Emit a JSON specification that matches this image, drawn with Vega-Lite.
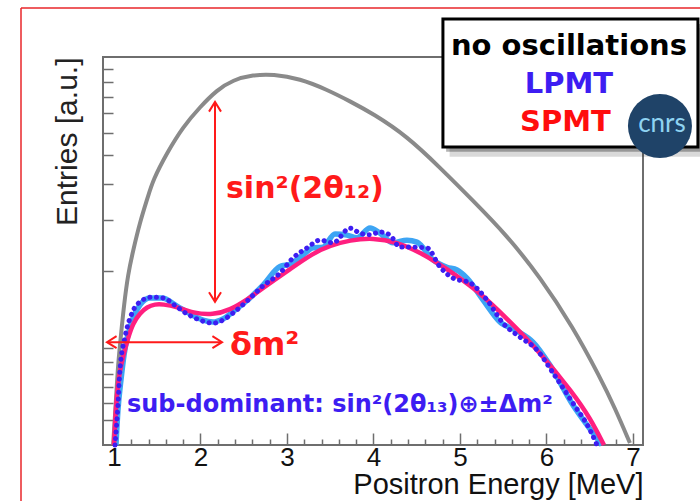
{
  "$schema": "https://vega.github.io/schema/vega-lite/v6.json",
  "width": 540,
  "height": 388,
  "autosize": "none",
  "padding": {"left": 103, "top": 57, "right": 57, "bottom": 56},
  "background": "white",
  "config": {"view": {"stroke": "#6e6e6e", "strokeWidth": 2}},
  "datasets": {
    "frame": [
      {"x": -0.075, "y": 112.6, "x2": 7.8, "y2": 112.6},
      {"x": -0.075, "y": 112.6, "x2": -0.075, "y2": -15}
    ],
    "curves": [
      {"s": "gray", "x": 0.99, "y": 0},
      {"s": "gray", "x": 1.023, "y": 11.6},
      {"s": "gray", "x": 1.046, "y": 20.6},
      {"s": "gray", "x": 1.081, "y": 28.4},
      {"s": "gray", "x": 1.116, "y": 36.1},
      {"s": "gray", "x": 1.162, "y": 44.0},
      {"s": "gray", "x": 1.22, "y": 50.0},
      {"s": "gray", "x": 1.301, "y": 57.5},
      {"s": "gray", "x": 1.393, "y": 64.0},
      {"s": "gray", "x": 1.451, "y": 68.3},
      {"s": "gray", "x": 1.613, "y": 75.3},
      {"s": "gray", "x": 1.798, "y": 82.0},
      {"s": "gray", "x": 1.994, "y": 87.1},
      {"s": "gray", "x": 2.191, "y": 91.5},
      {"s": "gray", "x": 2.376, "y": 94.1},
      {"s": "gray", "x": 2.607, "y": 95.4},
      {"s": "gray", "x": 2.838, "y": 95.6},
      {"s": "gray", "x": 3.15, "y": 94.4},
      {"s": "gray", "x": 3.462, "y": 91.6},
      {"s": "gray", "x": 3.728, "y": 88.6},
      {"s": "gray", "x": 3.994, "y": 85.4},
      {"s": "gray", "x": 4.387, "y": 79.6},
      {"s": "gray", "x": 4.769, "y": 71.5},
      {"s": "gray", "x": 5.15, "y": 63.0},
      {"s": "gray", "x": 5.543, "y": 54.0},
      {"s": "gray", "x": 5.925, "y": 43.3},
      {"s": "gray", "x": 6.306, "y": 30.4},
      {"s": "gray", "x": 6.618, "y": 17.5},
      {"s": "gray", "x": 6.792, "y": 9.5},
      {"s": "gray", "x": 6.965, "y": 0.5},

      {"s": "pink", "x": 1.0, "y": 0},
      {"s": "pink", "x": 1.023, "y": 10.3},
      {"s": "pink", "x": 1.046, "y": 15.5},
      {"s": "pink", "x": 1.069, "y": 19.3},
      {"s": "pink", "x": 1.104, "y": 22.7},
      {"s": "pink", "x": 1.162, "y": 27.6},
      {"s": "pink", "x": 1.22, "y": 31.4},
      {"s": "pink", "x": 1.301, "y": 34.0},
      {"s": "pink", "x": 1.382, "y": 35.6},
      {"s": "pink", "x": 1.474, "y": 36.3},
      {"s": "pink", "x": 1.566, "y": 36.3},
      {"s": "pink", "x": 1.728, "y": 35.6},
      {"s": "pink", "x": 1.913, "y": 34.0},
      {"s": "pink", "x": 2.145, "y": 33.5},
      {"s": "pink", "x": 2.341, "y": 34.8},
      {"s": "pink", "x": 2.538, "y": 37.4},
      {"s": "pink", "x": 2.769, "y": 41.2},
      {"s": "pink", "x": 3.035, "y": 45.3},
      {"s": "pink", "x": 3.301, "y": 49.4},
      {"s": "pink", "x": 3.497, "y": 51.4},
      {"s": "pink", "x": 3.728, "y": 52.8},
      {"s": "pink", "x": 3.994, "y": 53.4},
      {"s": "pink", "x": 4.272, "y": 52.3},
      {"s": "pink", "x": 4.538, "y": 49.7},
      {"s": "pink", "x": 4.85, "y": 45.4},
      {"s": "pink", "x": 5.197, "y": 39.9},
      {"s": "pink", "x": 5.543, "y": 32.6},
      {"s": "pink", "x": 5.925, "y": 23.9},
      {"s": "pink", "x": 6.306, "y": 13.4},
      {"s": "pink", "x": 6.503, "y": 7.0},
      {"s": "pink", "x": 6.665, "y": 0},

      {"s": "lb", "x": 1.023, "y": 0},
      {"s": "lb", "x": 1.046, "y": 9.0},
      {"s": "lb", "x": 1.081, "y": 16.8},
      {"s": "lb", "x": 1.116, "y": 23.2},
      {"s": "lb", "x": 1.162, "y": 28.4},
      {"s": "lb", "x": 1.22, "y": 32.7},
      {"s": "lb", "x": 1.301, "y": 36.1},
      {"s": "lb", "x": 1.416, "y": 37.9},
      {"s": "lb", "x": 1.555, "y": 37.9},
      {"s": "lb", "x": 1.728, "y": 35.8},
      {"s": "lb", "x": 1.879, "y": 33.8},
      {"s": "lb", "x": 2.029, "y": 32.2},
      {"s": "lb", "x": 2.145, "y": 31.7},
      {"s": "lb", "x": 2.26, "y": 32.5},
      {"s": "lb", "x": 2.399, "y": 34.8},
      {"s": "lb", "x": 2.572, "y": 37.9},
      {"s": "lb", "x": 2.723, "y": 41.2},
      {"s": "lb", "x": 2.919, "y": 46.0},
      {"s": "lb", "x": 3.035, "y": 46.6},
      {"s": "lb", "x": 3.185, "y": 49.0},
      {"s": "lb", "x": 3.301, "y": 50.8},
      {"s": "lb", "x": 3.416, "y": 51.0},
      {"s": "lb", "x": 3.555, "y": 54.4},
      {"s": "lb", "x": 3.694, "y": 54.1},
      {"s": "lb", "x": 3.809, "y": 53.4},
      {"s": "lb", "x": 3.96, "y": 55.9},
      {"s": "lb", "x": 4.075, "y": 54.6},
      {"s": "lb", "x": 4.225, "y": 52.1},
      {"s": "lb", "x": 4.387, "y": 52.8},
      {"s": "lb", "x": 4.503, "y": 52.3},
      {"s": "lb", "x": 4.688, "y": 47.7},
      {"s": "lb", "x": 4.85, "y": 45.8},
      {"s": "lb", "x": 4.965, "y": 45.1},
      {"s": "lb", "x": 5.081, "y": 43.0},
      {"s": "lb", "x": 5.266, "y": 37.4},
      {"s": "lb", "x": 5.462, "y": 31.7},
      {"s": "lb", "x": 5.659, "y": 29.4},
      {"s": "lb", "x": 5.844, "y": 26.5},
      {"s": "lb", "x": 6.04, "y": 20.6},
      {"s": "lb", "x": 6.306, "y": 10.3},
      {"s": "lb", "x": 6.538, "y": 3.1},
      {"s": "lb", "x": 6.642, "y": 0},

      {"s": "db", "x": 1.012, "y": 0},
      {"s": "db", "x": 1.046, "y": 10.3},
      {"s": "db", "x": 1.069, "y": 19.3},
      {"s": "db", "x": 1.127, "y": 27.8},
      {"s": "db", "x": 1.208, "y": 34.0},
      {"s": "db", "x": 1.301, "y": 36.9},
      {"s": "db", "x": 1.439, "y": 38.1},
      {"s": "db", "x": 1.566, "y": 37.9},
      {"s": "db", "x": 1.728, "y": 35.6},
      {"s": "db", "x": 1.844, "y": 33.8},
      {"s": "db", "x": 1.994, "y": 32.2},
      {"s": "db", "x": 2.145, "y": 31.4},
      {"s": "db", "x": 2.26, "y": 32.2},
      {"s": "db", "x": 2.376, "y": 34.0},
      {"s": "db", "x": 2.538, "y": 37.1},
      {"s": "db", "x": 2.723, "y": 41.0},
      {"s": "db", "x": 2.919, "y": 44.3},
      {"s": "db", "x": 3.069, "y": 48.2},
      {"s": "db", "x": 3.231, "y": 50.8},
      {"s": "db", "x": 3.382, "y": 52.8},
      {"s": "db", "x": 3.532, "y": 52.1},
      {"s": "db", "x": 3.728, "y": 55.9},
      {"s": "db", "x": 3.844, "y": 54.6},
      {"s": "db", "x": 3.96, "y": 54.2},
      {"s": "db", "x": 4.075, "y": 54.9},
      {"s": "db", "x": 4.191, "y": 54.1},
      {"s": "db", "x": 4.306, "y": 51.0},
      {"s": "db", "x": 4.457, "y": 51.0},
      {"s": "db", "x": 4.618, "y": 50.8},
      {"s": "db", "x": 4.769, "y": 45.9},
      {"s": "db", "x": 4.919, "y": 43.0},
      {"s": "db", "x": 5.116, "y": 41.8},
      {"s": "db", "x": 5.312, "y": 37.4},
      {"s": "db", "x": 5.497, "y": 31.4},
      {"s": "db", "x": 5.694, "y": 27.8},
      {"s": "db", "x": 5.89, "y": 24.5},
      {"s": "db", "x": 6.075, "y": 18.6},
      {"s": "db", "x": 6.306, "y": 10.8},
      {"s": "db", "x": 6.503, "y": 3.9},
      {"s": "db", "x": 6.584, "y": 0}
    ],
    "arrows": [
      {"x": 2.168, "y": 37.4, "x2": 2.168, "y2": 88.0},
      {"x": 0.93, "y": 26.5, "x2": 2.24, "y2": 26.5}
    ],
    "heads": [
      {"dir": "up", "x": 2.168, "y": 88.4},
      {"dir": "down", "x": 2.168, "y": 36.9},
      {"dir": "left", "x": 0.919, "y": 26.5},
      {"dir": "right", "x": 2.249, "y": 26.5}
    ],
    "labels": [
      {"role": "red1", "t": "sin²(2θ₁₂)", "x": 2.295, "y": 63.7},
      {"role": "red2", "t": "δm²", "x": 2.341, "y": 23.2},
      {"role": "sub", "t": "sub-dominant: sin²(2θ₁₃)⊕±Δm²", "x": 1.15, "y": 8.5},
      {"role": "leg0", "t": "no oscillations", "x": 6.26, "y": 100.5},
      {"role": "leg1", "t": "LPMT", "x": 6.26, "y": 90.7},
      {"role": "leg2", "t": "SPMT", "x": 5.694, "y": 80.9},
      {"role": "cnrs", "t": "cnrs", "x": 7.335, "y": 80.7}
    ],
    "box": [
      {"part": "shadow2", "x": 4.88, "x2": 7.84, "y": 107.5, "y2": 74.3},
      {"part": "shadow", "x": 4.84, "x2": 7.8, "y": 108.5, "y2": 75.6},
      {"part": "box", "x": 4.803, "x2": 7.751, "y": 109.8, "y2": 76.8}
    ],
    "logo": [
      {"x": 7.312, "y": 82.2}
    ]
  },
  "encoding": {
    "x": {
      "field": "x", "type": "quantitative",
      "scale": {"domain": [0.873, 7.116], "nice": false, "zero": false},
      "axis": {
        "values": [1,1.2,1.4,1.6,1.8,2,2.2,2.4,2.6,2.8,3,3.2,3.4,3.6,3.8,4,4.2,4.4,4.6,4.8,5,5.2,5.4,5.6,5.8,6,6.2,6.4,6.6,6.8,7],
        "labelExpr": "abs(datum.value - round(datum.value)) < 0.01 ? format(datum.value, 'd') : ''",
        "tickSize": {"condition": {"test": "abs(datum.value - round(datum.value)) < 0.01", "value": -12}, "value": -6},
        "tickColor": "#6e6e6e", "tickWidth": 1.5,
        "domain": false, "grid": false,
        "labelFont": "Liberation Sans", "labelFontSize": 26, "labelColor": "#111111",
        "labelPadding": 11, "labelFlush": false, "labelOverlap": false,
        "title": "Positron Energy [MeV]",
        "titleFont": "Liberation Sans", "titleFontSize": 29, "titleFontWeight": "normal",
        "titleColor": "#111111", "titleAnchor": "end", "titlePadding": -6
      }
    },
    "y": {
      "field": "y", "type": "quantitative",
      "scale": {"domain": [0, 100], "nice": false, "zero": false},
      "axis": {
        "values": [6.4,10.8,14.9,18.3,21.4,25.0,44.8,58.0,67.3,74.7,80.4,85.6,89.7,93.6,96.9],
        "labels": false, "tickSize": -10, "tickColor": "#6e6e6e", "tickWidth": 1.5,
        "domain": false, "grid": false,
        "title": "Entries [a.u.]",
        "titleFont": "Liberation Sans", "titleFontSize": 30, "titleFontWeight": "normal",
        "titleColor": "#222222", "titleAnchor": "end", "titlePadding": 20
      }
    }
  },
  "layer": [
    {"data": {"name": "frame"}, "mark": {"type": "rule", "color": "#e8262a", "strokeWidth": 1.5},
     "encoding": {"x2": {"field": "x2"}, "y2": {"field": "y2"}}},
    {"data": {"name": "curves"}, "transform": [{"filter": "datum.s === 'gray'"}],
     "mark": {"type": "line", "color": "#8a8a8a", "strokeWidth": 4, "interpolate": "basis"}},
    {"data": {"name": "curves"}, "transform": [{"filter": "datum.s === 'lb'"}],
     "mark": {"type": "line", "color": "#3da5f4", "strokeWidth": 5.5, "interpolate": "monotone"}},
    {"data": {"name": "curves"}, "transform": [{"filter": "datum.s === 'pink'"}],
     "mark": {"type": "line", "color": "#ff1f7f", "strokeWidth": 4.5, "interpolate": "basis"}},
    {"data": {"name": "curves"}, "transform": [{"filter": "datum.s === 'db'"}],
     "mark": {"type": "line", "color": "#3d1df2", "strokeWidth": 5, "strokeDash": [0.1, 6.5], "strokeCap": "round", "interpolate": "monotone"}},
    {"data": {"name": "arrows"}, "mark": {"type": "rule", "color": "#ff1a1a", "strokeWidth": 2},
     "encoding": {"x2": {"field": "x2"}, "y2": {"field": "y2"}}},
    {"data": {"name": "heads"}, "transform": [{"filter": "datum.dir === 'up'"}],
     "mark": {"type": "point", "shape": "M-1,1.6L0,0L1,1.6", "filled": false, "size": 144, "strokeWidth": 2, "color": "#ff1a1a", "opacity": 1}},
    {"data": {"name": "heads"}, "transform": [{"filter": "datum.dir === 'down'"}],
     "mark": {"type": "point", "shape": "M-1,-1.6L0,0L1,-1.6", "filled": false, "size": 144, "strokeWidth": 2, "color": "#ff1a1a", "opacity": 1}},
    {"data": {"name": "heads"}, "transform": [{"filter": "datum.dir === 'left'"}],
     "mark": {"type": "point", "shape": "M1.6,-1L0,0L1.6,1", "filled": false, "size": 144, "strokeWidth": 2, "color": "#ff1a1a", "opacity": 1}},
    {"data": {"name": "heads"}, "transform": [{"filter": "datum.dir === 'right'"}],
     "mark": {"type": "point", "shape": "M-1.6,-1L0,0L-1.6,1", "filled": false, "size": 144, "strokeWidth": 2, "color": "#ff1a1a", "opacity": 1}},
    {"data": {"name": "labels"}, "transform": [{"filter": "datum.role === 'red1'"}],
     "mark": {"type": "text", "font": "DejaVu Sans", "fontWeight": "bold", "fontSize": 30, "align": "left", "baseline": "alphabetic", "color": "#ff1a1a"},
     "encoding": {"text": {"field": "t"}}},
    {"data": {"name": "labels"}, "transform": [{"filter": "datum.role === 'red2'"}],
     "mark": {"type": "text", "font": "DejaVu Sans", "fontWeight": "bold", "fontSize": 32, "align": "left", "baseline": "alphabetic", "color": "#ff1a1a"},
     "encoding": {"text": {"field": "t"}}},
    {"data": {"name": "labels"}, "transform": [{"filter": "datum.role === 'sub'"}],
     "mark": {"type": "text", "font": "DejaVu Sans", "fontWeight": "bold", "fontSize": 24, "align": "left", "baseline": "alphabetic", "color": "#3d1df2"},
     "encoding": {"text": {"field": "t"}}},
    {"data": {"name": "box"}, "transform": [{"filter": "datum.part === 'shadow2'"}],
     "mark": {"type": "rect", "color": "#000000", "opacity": 0.15},
     "encoding": {"x2": {"field": "x2"}, "y2": {"field": "y2"}}},
    {"data": {"name": "box"}, "transform": [{"filter": "datum.part === 'shadow'"}],
     "mark": {"type": "rect", "color": "#000000", "opacity": 0.3},
     "encoding": {"x2": {"field": "x2"}, "y2": {"field": "y2"}}},
    {"data": {"name": "box"}, "transform": [{"filter": "datum.part === 'box'"}],
     "mark": {"type": "rect", "fill": "#ffffff", "stroke": "#000000", "strokeWidth": 3, "opacity": 1},
     "encoding": {"x2": {"field": "x2"}, "y2": {"field": "y2"}}},
    {"data": {"name": "labels"}, "transform": [{"filter": "datum.role === 'leg0'"}],
     "mark": {"type": "text", "font": "DejaVu Sans", "fontWeight": "bold", "fontSize": 29, "align": "center", "baseline": "alphabetic", "color": "#000000"},
     "encoding": {"text": {"field": "t"}}},
    {"data": {"name": "labels"}, "transform": [{"filter": "datum.role === 'leg1'"}],
     "mark": {"type": "text", "font": "DejaVu Sans", "fontWeight": "bold", "fontSize": 29, "align": "center", "baseline": "alphabetic", "color": "#3d1df2"},
     "encoding": {"text": {"field": "t"}}},
    {"data": {"name": "labels"}, "transform": [{"filter": "datum.role === 'leg2'"}],
     "mark": {"type": "text", "font": "DejaVu Sans", "fontWeight": "bold", "fontSize": 29, "align": "left", "baseline": "alphabetic", "color": "#ff0d0d"},
     "encoding": {"text": {"field": "t"}}},
    {"data": {"name": "logo"},
     "mark": {"type": "point", "shape": "circle", "filled": true, "size": 4096, "color": "#1f4368", "opacity": 1}},
    {"data": {"name": "labels"}, "transform": [{"filter": "datum.role === 'cnrs'"}],
     "mark": {"type": "text", "font": "Lato", "fontWeight": "normal", "fontSize": 26, "align": "center", "baseline": "alphabetic", "color": "#8fd3f2"},
     "encoding": {"text": {"field": "t"}}}
  ]
}
